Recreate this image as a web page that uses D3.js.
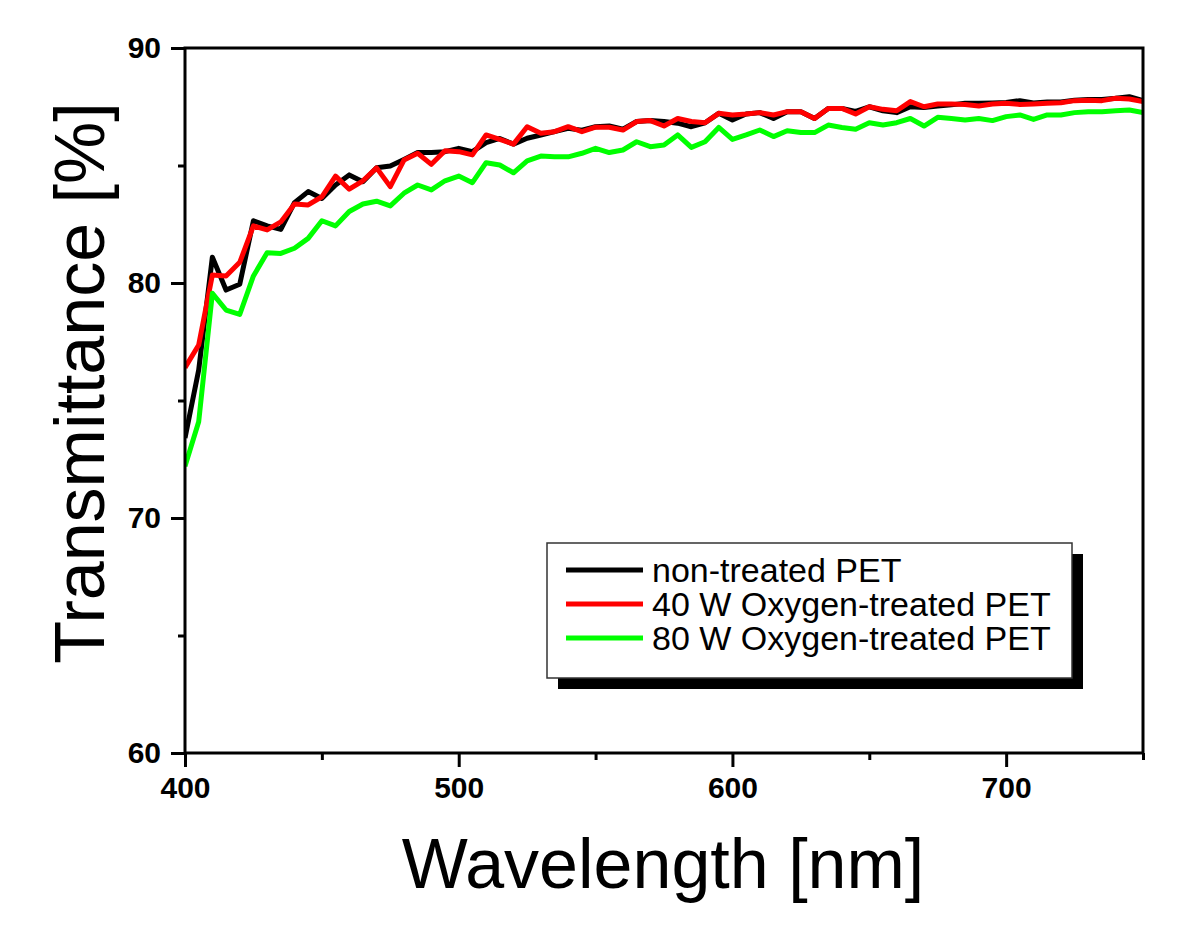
<!DOCTYPE html>
<html lang="en">
<head>
  <meta charset="UTF-8">
  <title>Transmittance</title>
  <script src="https://d3js.org/d3.v7.min.js"></script>
  <style>
    body { margin: 0; background: #fff; }
    text { font-family: Arial, "Liberation Sans", sans-serif; }
  </style>
</head>
<body>
  <div class="canvas"></div>
  <script>
    // wavelength every 5 nm, 400..750
    const wavelength = d3.range(400, 751, 5);

    const nonTreated = [
      73.4, 76.3, 81.1, 79.7, 79.95, 82.65, 82.43, 82.28, 83.42, 83.89,
      83.6, 84.17, 84.6, 84.31, 84.9, 84.98, 85.26, 85.55, 85.55, 85.59,
      85.73, 85.59, 85.97, 86.15, 85.91, 86.16, 86.3, 86.44, 86.58, 86.5,
      86.65, 86.68, 86.55, 86.87, 86.91, 86.87, 86.8, 86.65, 86.82, 87.22,
      86.94, 87.19, 87.25, 87.0, 87.29, 87.29, 87.0, 87.43, 87.43, 87.3,
      87.5, 87.33, 87.25, 87.5, 87.47, 87.53, 87.58, 87.65, 87.65, 87.66,
      87.68, 87.76, 87.66, 87.7, 87.7, 87.78, 87.81, 87.81, 87.86, 87.93,
      87.76
    ];
    const oxygen40 = [
      76.4, 77.36, 80.34, 80.3, 80.88, 82.43, 82.26, 82.6, 83.36, 83.32,
      83.67, 84.55, 83.99, 84.35, 84.9, 84.1, 85.23, 85.52, 85.05, 85.63,
      85.59, 85.45, 86.3, 86.11, 85.91, 86.65, 86.37, 86.44, 86.65, 86.44,
      86.63, 86.63, 86.51, 86.87, 86.91, 86.68, 87.0, 86.87, 86.82, 87.22,
      87.15, 87.19, 87.25, 87.15, 87.29, 87.29, 87.0, 87.43, 87.43, 87.19,
      87.5, 87.39, 87.33, 87.72, 87.5, 87.62, 87.62, 87.6, 87.53, 87.62,
      87.65, 87.6, 87.62, 87.65, 87.67, 87.76, 87.78, 87.76, 87.86, 87.83,
      87.72
    ];
    const oxygen80 = [
      72.2, 74.1, 79.56, 78.85, 78.66, 80.3, 81.29, 81.26, 81.48, 81.9,
      82.65, 82.43, 83.04, 83.36, 83.48, 83.28, 83.82, 84.17, 83.96, 84.35,
      84.55, 84.27, 85.12, 85.02, 84.69, 85.2, 85.4, 85.37, 85.37, 85.52,
      85.73, 85.55, 85.66, 86.01, 85.8, 85.87, 86.3, 85.77, 86.01, 86.62,
      86.11, 86.3, 86.51, 86.23, 86.48, 86.4, 86.4, 86.72, 86.62, 86.54,
      86.82, 86.72, 86.82, 87.0, 86.68, 87.05, 87.0, 86.94, 87.0, 86.91,
      87.08, 87.15, 86.96, 87.15, 87.15, 87.25, 87.29, 87.29, 87.33, 87.36,
      87.25
    ];

    const seriesNames = ['non-treated PET', '40 W Oxygen-treated PET', '80 W Oxygen-treated PET'];
    const seriesColors = ['#000000', '#ff0000', '#00ff00'];
    const seriesValues = [nonTreated, oxygen40, oxygen80];

    const xTicks = [400, 500, 600, 700];
    const xMinor = [450, 550, 650, 750];
    const yTicks = [60, 70, 80, 90];
    const yMinor = [65, 75, 85];

    const width = 1200, height = 927;
    const margin = { top: 48, right: 57, bottom: 174, left: 185 };
    const innerW = width - margin.left - margin.right;
    const innerH = height - margin.top - margin.bottom;

    const svg = d3.select('.canvas')
      .append('svg')
      .attr('width', width)
      .attr('height', height);

    const g = svg.append('g')
      .attr('transform', `translate(${margin.left}, ${margin.top})`);

    const x = d3.scaleLinear().domain([400, 750]).range([0, innerW]);
    const y = d3.scaleLinear().domain([60, 90]).range([innerH, 0]);

    g.append('clipPath').attr('id', 'clip')
      .append('rect').attr('width', innerW).attr('height', innerH);

    // curves
    const line = d3.line()
      .x((d, i) => x(wavelength[i]))
      .y(d => y(d));

    g.append('g').attr('clip-path', 'url(#clip)')
      .selectAll('path')
      .data(seriesValues)
      .enter()
      .append('path')
      .attr('d', d => line(d))
      .attr('fill', 'none')
      .attr('stroke', (d, i) => seriesColors[i])
      .attr('stroke-width', 5)
      .attr('stroke-linejoin', 'round');

    // axes (major ticks outward, minor shorter)
    const xAxis = g.append('g').attr('transform', `translate(0, ${innerH})`)
      .call(d3.axisBottom(x).tickValues(xTicks).tickSize(14).tickPadding(10));
    g.append('g').attr('transform', `translate(0, ${innerH})`)
      .call(d3.axisBottom(x).tickValues(xMinor).tickSize(7).tickFormat(''));

    const yAxis = g.append('g')
      .call(d3.axisLeft(y).tickValues(yTicks).tickSize(14).tickPadding(10));
    g.append('g')
      .call(d3.axisLeft(y).tickValues(yMinor).tickSize(7).tickFormat(''));

    g.selectAll('.domain').remove();
    g.selectAll('.tick line').attr('stroke', '#000').attr('stroke-width', 3);
    g.selectAll('.tick text')
      .attr('fill', '#000')
      .style('font-size', '30px')
      .style('font-weight', 'bold')
      .style('font-family', 'Arial, "Liberation Sans", sans-serif');

    // frame
    g.append('rect')
      .attr('width', innerW)
      .attr('height', innerH)
      .attr('fill', 'none')
      .attr('stroke', '#000')
      .attr('stroke-width', 3);

    // axis titles
    svg.append('text')
      .attr('x', margin.left + innerW / 2 - 1)
      .attr('y', 888)
      .attr('text-anchor', 'middle')
      .style('font-size', '70px')
      .text('Wavelength [nm]');

    svg.append('text')
      .attr('transform', 'translate(104, 383) rotate(-90)')
      .attr('text-anchor', 'middle')
      .style('font-size', '70px')
      .text('Transmittance [%]');

    // legend with drop shadow
    const legend = svg.append('g').attr('transform', 'translate(547, 543)');
    legend.append('rect')
      .attr('x', 11).attr('y', 11)
      .attr('width', 525).attr('height', 135)
      .attr('fill', '#000');
    legend.append('rect')
      .attr('width', 525).attr('height', 135)
      .attr('fill', '#fff')
      .attr('stroke', '#333')
      .attr('stroke-width', 1.5);

    const items = legend.selectAll('.item')
      .data(seriesNames)
      .enter()
      .append('g')
      .attr('transform', (d, i) => `translate(0, ${27 + i * 34})`);
    items.append('line')
      .attr('x1', 19).attr('x2', 96)
      .attr('stroke', (d, i) => seriesColors[i])
      .attr('stroke-width', 5);
    items.append('text')
      .attr('x', 105)
      .attr('dy', '0.35em')
      .style('font-size', '34px')
      .text(d => d);
  </script>
</body>
</html>
